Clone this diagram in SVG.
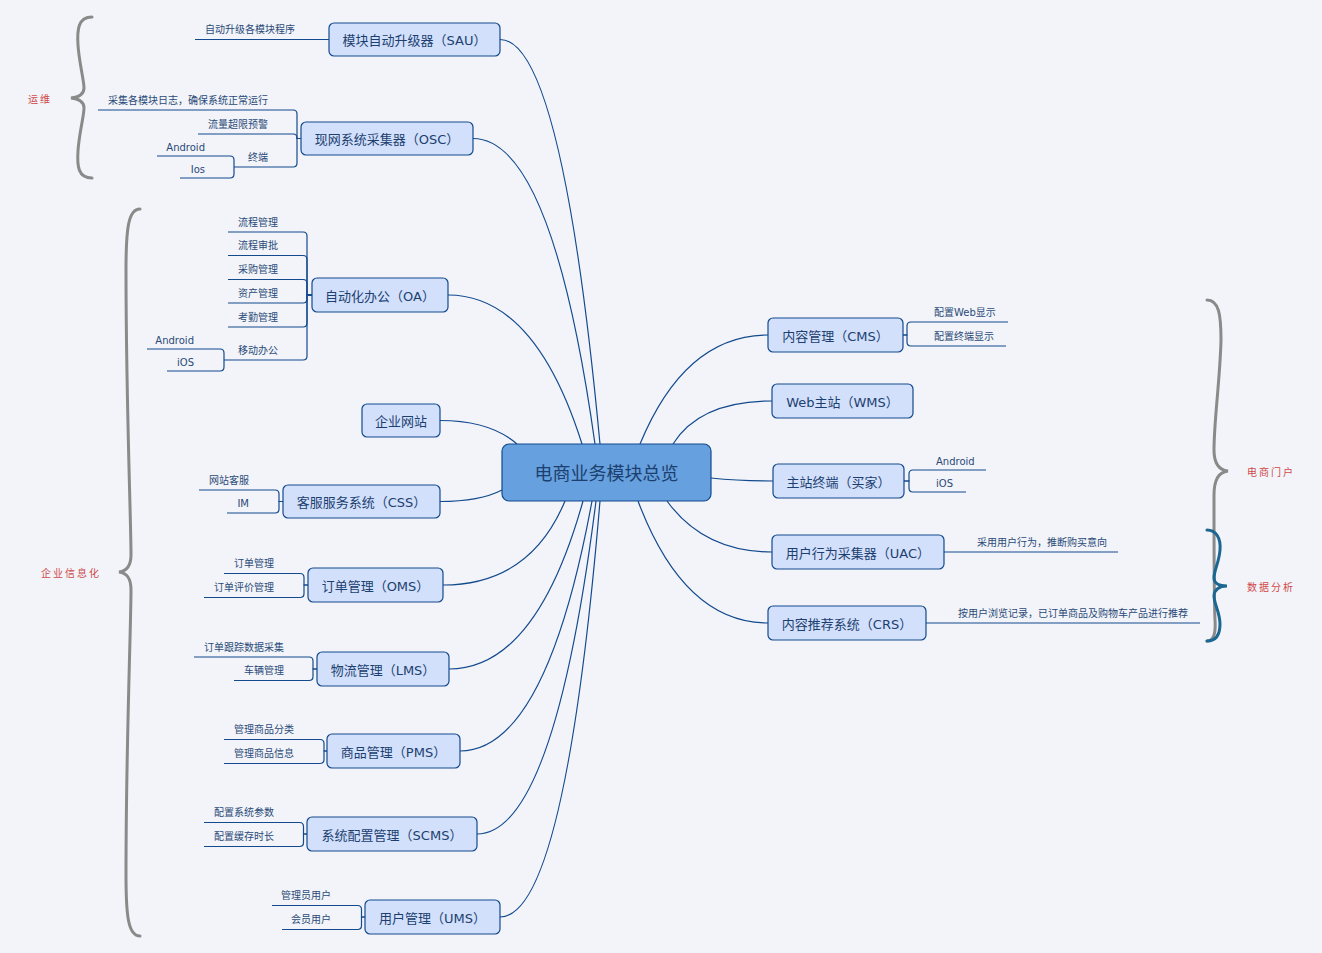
<svg xmlns="http://www.w3.org/2000/svg" width="1322" height="953" viewBox="0 0 1322 953">
<style>
.bg{fill:#f2f4f9}
.node rect{fill:#d2e0fc;stroke:#134a8e;stroke-width:1.2}
.center rect{fill:#66a0de;stroke:#134a8e;stroke-width:1.2}
.nt{font-family:"DejaVu Sans","Noto Sans CJK SC",sans-serif;font-size:13px;fill:#1c3f6f;text-anchor:middle}
.ct{font-family:"DejaVu Sans","Noto Sans CJK SC",sans-serif;font-size:18px;fill:#1c3f6f;text-anchor:middle}
.lt{font-family:"DejaVu Sans","Noto Sans CJK SC",sans-serif;font-size:10px;fill:#2a4a78}
.le{text-anchor:end}
.ln{fill:none;stroke:#134a8e;stroke-width:1.2}
.lbl{font-family:"Noto Sans CJK SC",sans-serif;font-size:10px;fill:#d04848;letter-spacing:2px}
.brace{fill:none;stroke:#8a8a8a;stroke-width:3;stroke-linecap:round}
.brace2{fill:none;stroke:#1b6791;stroke-width:3;stroke-linecap:round}
</style>
<rect class="bg" x="0" y="0" width="1322" height="953"/>

<!-- braces and labels -->
<g id="groups">
<path class="brace" d="M92,17 C78,17 77,30 78,45 C79,62 84,80 84,88 C84,94 80,97 71,98 C80,99 84,102 84,108 C84,116 79,134 78,151 C77,166 78,178 92,178"/>
<text class="lbl" x="28" y="103">运维</text>
<path class="brace" d="M140,209 C128,209 126,230 126,270 C126,400 131,520 131,555 C131,566 127,571 119,572 C127,573 131,578 131,590 C131,625 126,745 126,875 C126,915 128,936 140,936"/>
<text class="lbl" x="41" y="577">企业信息化</text>
<path class="brace" d="M1207,300 C1219,300 1221,315 1221,340 C1220,380 1214,420 1214,450 C1214,463 1218,470 1228,471 C1218,472 1214,480 1214,495 C1214,530 1214,600 1215,620 C1216,635 1213,641 1207,641"/>
<text class="lbl" x="1247" y="476">电商门户</text>
<path class="brace2" d="M1207,530 C1216,530 1221,538 1220,550 C1219,563 1214,570 1214,578 C1214,583 1219,586 1227,586 C1219,586 1214,590 1214,596 C1214,604 1220,612 1220,624 C1220,636 1215,641 1207,641"/>
<text class="lbl" x="1247" y="591">数据分析</text>
</g>

<!-- main connectors -->
<g id="connectors">
<path class="ln" d="M500,39.5 Q562,39.5 600,444"/>
<path class="ln" d="M473,138.5 Q552,138.5 595,444"/>
<path class="ln" d="M448,295 Q535,295 582,444"/>
<path class="ln" d="M440,420.5 Q490,420.5 517,444"/>
<path class="ln" d="M440,501.5 Q480,501.5 502,490"/>
<path class="ln" d="M443,585 Q530,585 565,501"/>
<path class="ln" d="M449,669 Q536,669 583,501"/>
<path class="ln" d="M460,751 Q546,751 592,501"/>
<path class="ln" d="M477,834 Q554,834 596,501"/>
<path class="ln" d="M500,917 Q565,917 600,501"/>
<path class="ln" d="M768,335 Q685,335 640,444"/>
<path class="ln" d="M772,401 Q700,401 673,444"/>
<path class="ln" d="M773,481 Q740,481 711,478"/>
<path class="ln" d="M772,552 Q704,552 667,501"/>
<path class="ln" d="M768,623 Q684,623 638,501"/>
</g>

<!-- center -->
<g id="center" class="center">
<rect x="502" y="444" width="209" height="57" rx="7"/>
<text class="ct" x="606.5" y="480">电商业务模块总览</text>
</g>

<!-- SAU -->
<g id="sau">
<g class="node"><rect x="329" y="23" width="171" height="33" rx="5"/></g>
<text class="nt" x="414.5" y="45">模块自动升级器（SAU）</text>
<path class="ln" d="M329,39.5 H195"/>
<text class="lt le" x="295" y="33">自动升级各模块程序</text>
</g>

<!-- OSC -->
<g id="osc">
<g class="node"><rect x="301" y="122" width="172" height="33" rx="5"/></g>
<text class="nt" x="387" y="144">现网系统采集器（OSC）</text>
<path class="ln" d="M301,138.5 H297 V114 Q297,110 293,110 H98"/>
<path class="ln" d="M301,138.5 H297 V138 Q297,134 293,134 H198"/>
<path class="ln" d="M301,138.5 H297 V163 Q297,167 293,167 H234"/>
<path class="ln" d="M234,167 V160 Q234,156 230,156 H157"/>
<path class="ln" d="M234,167 V174 Q234,178 230,178 H180"/>
<text class="lt le" x="268" y="104">采集各模块日志，确保系统正常运行</text>
<text class="lt le" x="268" y="128">流量超限预警</text>
<text class="lt le" x="268" y="161">终端</text>
<text class="lt le" x="205" y="150.5">Android</text>
<text class="lt le" x="205" y="172.5">Ios</text>
</g>

<!-- OA -->
<g id="oa">
<g class="node"><rect x="312" y="278" width="136" height="34" rx="5"/></g>
<text class="nt" x="380" y="300.5">自动化办公（OA）</text>
<path class="ln" d="M312,295 H307 V236 Q307,232 303,232 H228"/>
<path class="ln" d="M312,295 H307 V259.5 Q307,255.5 303,255.5 H228"/>
<path class="ln" d="M312,295 H307 V283.5 Q307,279.5 303,279.5 H228"/>
<path class="ln" d="M312,295 H307 V299 Q307,303 303,303 H228"/>
<path class="ln" d="M312,295 H307 V323 Q307,327 303,327 H228"/>
<path class="ln" d="M312,295 H307 V356 Q307,360 303,360 H224"/>
<path class="ln" d="M224,360 V353 Q224,349 220,349 H147"/>
<path class="ln" d="M224,360 V367 Q224,371 220,371 H167"/>
<text class="lt le" x="278" y="225.5">流程管理</text>
<text class="lt le" x="278" y="249">流程审批</text>
<text class="lt le" x="278" y="273">采购管理</text>
<text class="lt le" x="278" y="296.5">资产管理</text>
<text class="lt le" x="278" y="320.5">考勤管理</text>
<text class="lt le" x="278" y="353.5">移动办公</text>
<text class="lt le" x="194" y="343.5">Android</text>
<text class="lt le" x="194" y="365.5">iOS</text>
</g>

<!-- 企业网站 -->
<g id="web">
<g class="node"><rect x="362" y="404" width="78" height="33" rx="5"/></g>
<text class="nt" x="401" y="426">企业网站</text>
</g>

<!-- CSS -->
<g id="css">
<g class="node"><rect x="283" y="485" width="157" height="33" rx="5"/></g>
<text class="nt" x="361.5" y="507">客服服务系统（CSS）</text>
<path class="ln" d="M283,501.5 H279 V494 Q279,490 275,490 H199"/>
<path class="ln" d="M283,501.5 H279 V509 Q279,513 275,513 H227"/>
<text class="lt le" x="249" y="484">网站客服</text>
<text class="lt le" x="249" y="507">IM</text>
</g>

<!-- OMS -->
<g id="oms">
<g class="node"><rect x="308" y="568" width="135" height="34" rx="5"/></g>
<text class="nt" x="375.5" y="590.5">订单管理（OMS）</text>
<path class="ln" d="M308,585 H304 V577.5 Q304,573.5 300,573.5 H224"/>
<path class="ln" d="M308,585 H304 V593.5 Q304,597.5 300,597.5 H204"/>
<text class="lt le" x="274" y="567">订单管理</text>
<text class="lt le" x="274" y="591">订单评价管理</text>
</g>

<!-- LMS -->
<g id="lms">
<g class="node"><rect x="317" y="652" width="132" height="34" rx="5"/></g>
<text class="nt" x="383" y="674.5">物流管理（LMS）</text>
<path class="ln" d="M317,669 H313 V661 Q313,657 309,657 H194"/>
<path class="ln" d="M317,669 H313 V676.5 Q313,680.5 309,680.5 H234"/>
<text class="lt le" x="284" y="650.5">订单跟踪数据采集</text>
<text class="lt le" x="284" y="674">车辆管理</text>
</g>

<!-- PMS -->
<g id="pms">
<g class="node"><rect x="327" y="734" width="133" height="34" rx="5"/></g>
<text class="nt" x="393.5" y="756.5">商品管理（PMS）</text>
<path class="ln" d="M327,751 H324 V743.5 Q324,739.5 320,739.5 H224"/>
<path class="ln" d="M327,751 H324 V759.5 Q324,763.5 320,763.5 H224"/>
<text class="lt le" x="294" y="733">管理商品分类</text>
<text class="lt le" x="294" y="757">管理商品信息</text>
</g>

<!-- SCMS -->
<g id="scms">
<g class="node"><rect x="307" y="817" width="170" height="34" rx="5"/></g>
<text class="nt" x="392" y="839.5">系统配置管理（SCMS）</text>
<path class="ln" d="M307,834 H303.5 V826.5 Q303.5,822.5 299.5,822.5 H204"/>
<path class="ln" d="M307,834 H303.5 V842.5 Q303.5,846.5 299.5,846.5 H204"/>
<text class="lt le" x="274" y="816">配置系统参数</text>
<text class="lt le" x="274" y="840">配置缓存时长</text>
</g>

<!-- UMS -->
<g id="ums">
<g class="node"><rect x="365" y="900" width="135" height="34" rx="5"/></g>
<text class="nt" x="432.5" y="922.5">用户管理（UMS）</text>
<path class="ln" d="M365,917 H361.5 V909.5 Q361.5,905.5 357.5,905.5 H272"/>
<path class="ln" d="M365,917 H361.5 V925.5 Q361.5,929.5 357.5,929.5 H282"/>
<text class="lt le" x="331" y="899">管理员用户</text>
<text class="lt le" x="331" y="923">会员用户</text>
</g>

<!-- CMS -->
<g id="cms">
<g class="node"><rect x="768" y="318" width="135" height="34" rx="5"/></g>
<text class="nt" x="835.5" y="340.5">内容管理（CMS）</text>
<path class="ln" d="M903,335 H907 V326 Q907,322 911,322 H1008"/>
<path class="ln" d="M903,335 H907 V342 Q907,346 911,346 H1006"/>
<text class="lt" x="934" y="316">配置Web显示</text>
<text class="lt" x="934" y="340">配置终端显示</text>
</g>

<!-- WMS -->
<g id="wms">
<g class="node"><rect x="772" y="384" width="141" height="34" rx="5"/></g>
<text class="nt" x="842.5" y="406.5">Web主站（WMS）</text>
</g>

<!-- 主站终端 -->
<g id="terminal">
<g class="node"><rect x="773" y="464" width="131" height="34" rx="5"/></g>
<text class="nt" x="838.5" y="486.5">主站终端（买家）</text>
<path class="ln" d="M904,481 H909 V474 Q909,470 913,470 H986"/>
<path class="ln" d="M904,481 H909 V488 Q909,492 913,492 H966"/>
<text class="lt" x="936" y="465">Android</text>
<text class="lt" x="936" y="487">iOS</text>
</g>

<!-- UAC -->
<g id="uac">
<g class="node"><rect x="772" y="535" width="172" height="34" rx="5"/></g>
<text class="nt" x="858" y="557.5">用户行为采集器（UAC）</text>
<path class="ln" d="M944,552 H1118"/>
<text class="lt" x="977" y="546">采用用户行为，推断购买意向</text>
</g>

<!-- CRS -->
<g id="crs">
<g class="node"><rect x="768" y="606" width="158" height="34" rx="5"/></g>
<text class="nt" x="847" y="628.5">内容推荐系统（CRS）</text>
<path class="ln" d="M926,623 H1200"/>
<text class="lt" x="958" y="617">按用户浏览记录，已订单商品及购物车产品进行推荐</text>
</g>
</svg>
